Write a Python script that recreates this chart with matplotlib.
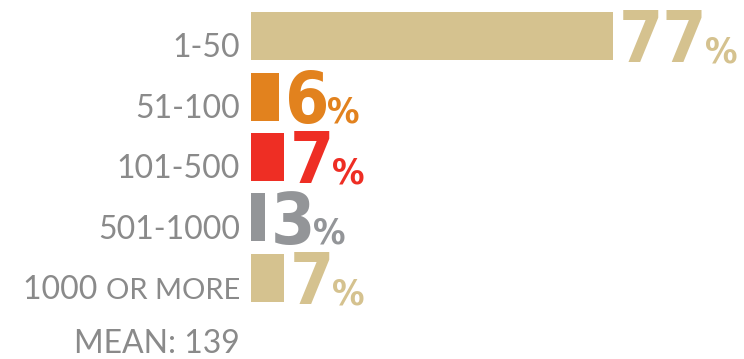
import numpy as np
import matplotlib.pyplot as plt

categories = ["1-50", "51-100", "101-500", "501-1000", "1000"]
shares = [77, 6, 7, 3, 7]
bar_colors = ["#D5C28F", "#E2821E", "#EE2E24", "#939598", "#D5C28F"]
mean_label = "MEAN: 139"

label_gray = "#8A8A8A"
num_font = ["DejaVu Sans"]
label_font = ["Lato", "DejaVu Sans"]

W, H = 744, 359
fig = plt.figure(figsize=(W / 100, H / 100), dpi=100)

# axes starts where the bars start; 1 pct = px_per_pct pixels
x0 = 251
px_per_pct = 362 / 77
row_px = 60.5
top_px = 36
ax = fig.add_axes([x0 / W, 0, 1 - x0 / W, 1])
ax.set_xlim(0, (W - x0) / px_per_pct)
ax.set_ylim((H - top_px) / row_px, -top_px / row_px)
ax.axis("off")

y = np.arange(len(categories))
ax.barh(y, shares, height=48 / row_px, color=bar_colors)

label_x = (240 - x0) / px_per_pct
gap = 6 / px_per_pct
lab_kw = dict(color=label_gray, family=label_font, fontweight="normal")
num_kw = dict(fontweight="bold", fontstretch="condensed", family=num_font)
for i, (cat, val, col) in enumerate(zip(categories, shares, bar_colors)):
    lab_y = i + 0.35
    if cat == "1000":
        t = ax.text(label_x, lab_y, "OR MORE", ha="right", va="baseline",
                    fontsize=21, clip_on=False, **lab_kw)
        ax.annotate("1000 ", xy=(0, lab_y), xycoords=(t, "data"),
                    ha="right", va="baseline", fontsize=23, **lab_kw)
    else:
        ax.text(label_x, lab_y, cat, ha="right", va="baseline",
                fontsize=23, clip_on=False, **lab_kw)

    # big value with a smaller % sign sitting on the same baseline
    base = i + 0.43
    num = ax.text(val + gap, base, str(val), ha="left", va="baseline",
                  fontsize=51, color=col, clip_on=False, **num_kw)
    ax.annotate("%", xy=(1, base), xycoords=(num, "data"), xytext=(-1.5, 0),
                textcoords="offset points", ha="left", va="baseline",
                fontsize=26, color=col, **num_kw)

ax.text(label_x, len(categories) + 0.24, mean_label, ha="right",
        va="baseline", fontsize=23, clip_on=False, **lab_kw)

fig.savefig("out.png", dpi=100)
